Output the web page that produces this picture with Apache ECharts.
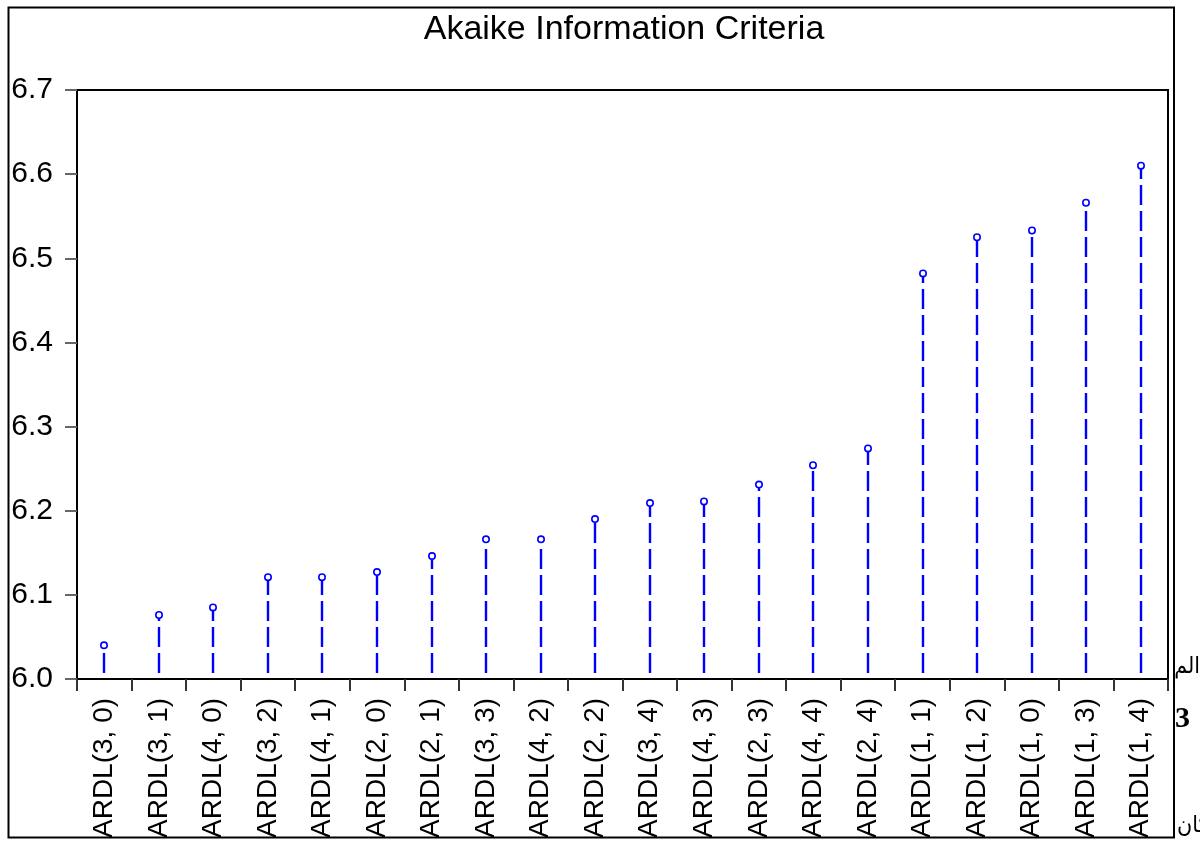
<!DOCTYPE html>
<html>
<head>
<meta charset="utf-8">
<script src="https://cdn.jsdelivr.net/npm/echarts@6/dist/echarts.min.js"></script>
<style>
  html, body { margin: 0; padding: 0; background: #ffffff; }
  #chart { width: 1200px; height: 841px; }
</style>
</head>
<body>
<div id="chart"></div>
<script>
// Model labels, ordered by criterion value
const models = [
  'ARDL(3, 0)', 'ARDL(3, 1)', 'ARDL(4, 0)', 'ARDL(3, 2)', 'ARDL(4, 1)',
  'ARDL(2, 0)', 'ARDL(2, 1)', 'ARDL(3, 3)', 'ARDL(4, 2)', 'ARDL(2, 2)',
  'ARDL(3, 4)', 'ARDL(4, 3)', 'ARDL(2, 3)', 'ARDL(4, 4)', 'ARDL(2, 4)',
  'ARDL(1, 1)', 'ARDL(1, 2)', 'ARDL(1, 0)', 'ARDL(1, 3)', 'ARDL(1, 4)'
];
// Akaike information criterion for each model
const aicValues = [
  6.040, 6.076, 6.085, 6.121, 6.121,
  6.127, 6.146, 6.166, 6.166, 6.190,
  6.209, 6.211, 6.231, 6.254, 6.274,
  6.482, 6.525, 6.533, 6.566, 6.610
];
// Value axis range and step
const yMin = 6.0;
const yMax = 6.7;
const yStep = 0.1;

const chart = echarts.init(document.getElementById('chart'), null, { renderer: 'canvas' });

const blue = '#0000ff';
const fontMain = 'Arial, "Liberation Sans", sans-serif';
const fontArabic = '"DejaVu Sans Condensed", "DejaVu Sans", sans-serif';

chart.setOption({
  backgroundColor: '#ffffff',
  animation: false,
  grid: {
    left: 77, top: 90, right: 32, bottom: 159,
    show: true, borderColor: '#000000', borderWidth: 2, backgroundColor: 'transparent'
  },
  xAxis: {
    type: 'category',
    data: models,
    boundaryGap: true,
    axisLine: { show: true, lineStyle: { color: '#000000', width: 2 } },
    axisTick: { show: true, alignWithLabel: false, length: 12, lineStyle: { color: '#333333', width: 2 } },
    axisLabel: {
      rotate: 90, interval: 0, margin: 19,
      color: '#000000', fontFamily: fontMain, fontSize: 28
    },
    splitLine: { show: false }
  },
  yAxis: {
    type: 'value',
    min: yMin, max: yMax, interval: yStep,
    axisLine: { show: true, lineStyle: { color: '#000000', width: 2 } },
    axisTick: { show: true, inside: false, length: 12, lineStyle: { color: '#666666', width: 2 } },
    axisLabel: {
      margin: 24, color: '#000000', fontFamily: fontMain, fontSize: 30,
      formatter: v => v.toFixed(1)
    },
    splitLine: { show: false }
  },
  series: [{
    type: 'custom',
    data: aicValues.map((v, i) => [i, v]),
    encode: { x: 0, y: 1 },
    clip: false,
    renderItem: function (params, api) {
      const top = api.coord([api.value(0), api.value(1)]);
      const base = api.coord([api.value(0), yMin]);
      const x = Math.round(top[0]);
      const r = 3.2;
      return {
        type: 'group',
        children: [
          {
            type: 'line',
            shape: { x1: x, y1: base[1], x2: x, y2: top[1] + r },
            style: { stroke: blue, lineWidth: 2.4, lineDash: [20, 6], lineDashOffset: 20 }
          },
          {
            type: 'circle',
            shape: { cx: x, cy: top[1], r: r },
            style: { fill: '#ffffff', stroke: blue, lineWidth: 1.6 }
          }
        ]
      };
    }
  }],
  graphic: [
    {
      type: 'rect',
      shape: { x: 8.5, y: 7.5, width: 1165.5, height: 830 },
      style: { fill: 'none', stroke: '#000000', lineWidth: 2 },
      z: 0
    },
    {
      type: 'text',
      x: 624, y: 30,
      style: {
        text: 'Akaike Information Criteria',
        font: '34px ' + fontMain, fill: '#000000',
        textAlign: 'center', textVerticalAlign: 'middle'
      }
    },
    {
      type: 'text',
      x: 1200, y: 667,
      style: {
        text: 'الم', font: '23px ' + fontArabic, fill: '#000000',
        textAlign: 'right', textVerticalAlign: 'middle'
      }
    },
    {
      type: 'text',
      x: 1175, y: 719,
      style: {
        text: '3', font: 'bold 30px "Liberation Serif", serif', fill: '#000000',
        textAlign: 'left', textVerticalAlign: 'middle'
      }
    },
    {
      type: 'text',
      x: 1177, y: 826,
      style: {
        text: 'كان', font: '23px ' + fontArabic, fill: '#000000',
        textAlign: 'left', textVerticalAlign: 'middle'
      }
    }
  ]
});
</script>
</body>
</html>
